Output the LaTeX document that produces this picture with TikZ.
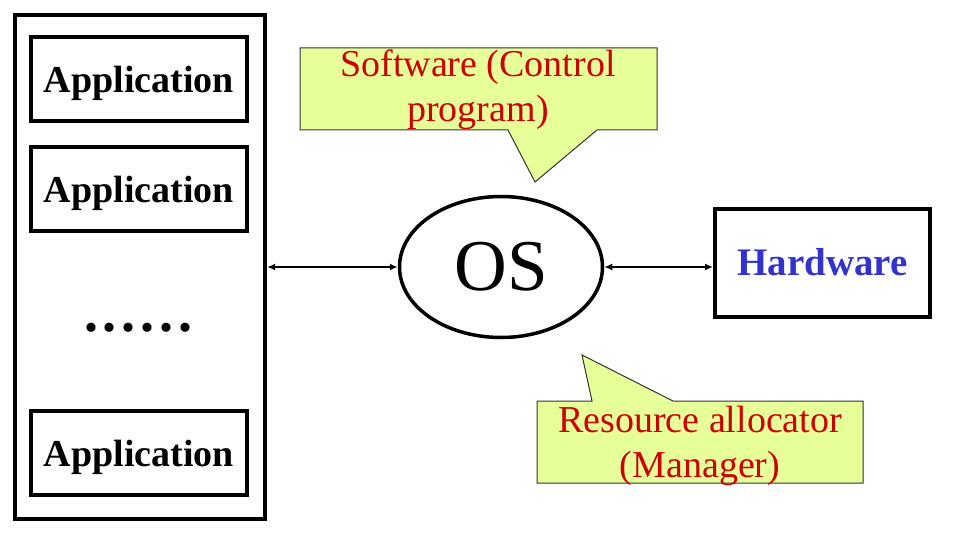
\documentclass[tikz,border=0pt]{standalone}
\usepackage{fontspec}
\setmainfont{Liberation Serif}
\usetikzlibrary{arrows.meta,shapes.geometric}
\definecolor{calloutfill}{RGB}{230,255,153}
\definecolor{callouttext}{RGB}{204,0,0}
\definecolor{hwblue}{RGB}{51,51,204}
\begin{document}
\begin{tikzpicture}[x=1pt,y=-1pt,
  box/.style={draw,line width=4pt,inner sep=0pt,outer sep=0pt},
  boxtext/.style={font=\fontsize{38}{45}\selectfont\bfseries,text height=30pt,text depth=4pt},
  appbox/.style={box,boxtext,minimum width=216.6pt,minimum height=84pt},
  calloutshape/.style={fill=calloutfill,draw=black!80,line width=1pt},
  callouttxt/.style={font=\fontsize{38}{45}\selectfont,text=callouttext,align=center,inner sep=0pt,anchor=base},
  link/.style={line width=2pt,{Latex[length=8pt,width=7pt]}-{Latex[length=8pt,width=7pt]}}]
\useasboundingbox (0,0) rectangle (960,534);
\fill[white] (0,0) rectangle (960,534);

% left column of applications
\node[box,minimum width=250.3pt,minimum height=504.5pt] (apps) at (140,267.2) {};
\node[appbox] (app1) at (139,79.3) {Application};
\node[appbox] (app2) at (139,189.3) {Application};
\node[appbox] (app3) at (139,453) {Application};
\node[font=\fontsize{56}{60}\selectfont\bfseries,anchor=base,inner sep=0pt] (dots) at (138.5,331)
  {.\kern5pt.\kern5pt.\kern5pt.\kern5pt.\kern5pt.};

% OS
\node[ellipse,draw,line width=3.5pt,inner sep=0pt,minimum width=203pt,minimum height=141pt,
      font=\fontsize{73}{80}\selectfont] (os) at (501,267) {OS};

% Hardware
\node[box,boxtext,font=\fontsize{39}{45}\selectfont\bfseries,minimum width=215pt,minimum height=107pt,text=hwblue] (hw) at (822.5,263) {Hardware};

% connectors
\draw[link] ([xshift=2pt]apps.east |- os.west) -- (os.west);
\draw[link] (os.east) -- ([xshift=-2pt]os.east -| hw.west);

% callout: software
\draw[calloutshape] (300,48) -- (657,48) -- (657,130) -- (597,130) -- (535,182) -- (508,130) -- (300,130) -- cycle;
\node[callouttxt] (sw) at (478,122) {Software (Control\\program)};

% callout: resource allocator
\draw[calloutshape] (537,401) -- (592,401) -- (582,355) -- (673,401) -- (863,401) -- (863,483) -- (537,483) -- cycle;
\node[callouttxt] (ra) at (700,477) {Resource allocator\\(Manager)};
\end{tikzpicture}
\end{document}
